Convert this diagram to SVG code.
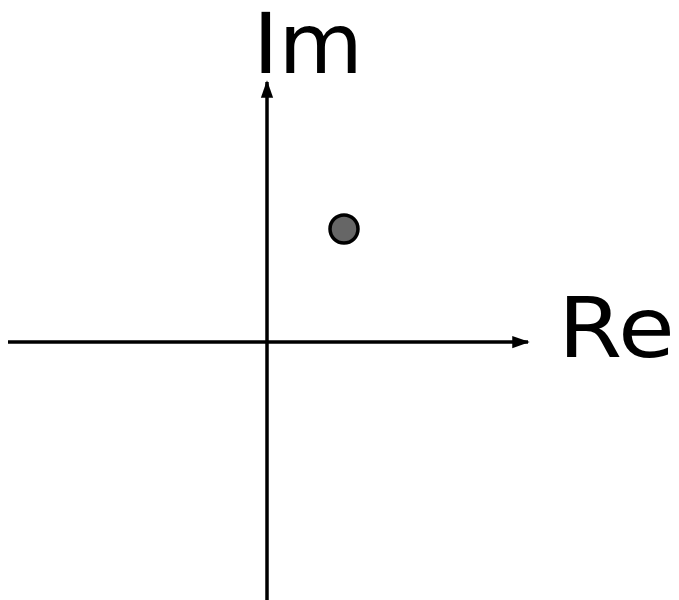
<svg xmlns="http://www.w3.org/2000/svg" width="679" height="600" viewBox="0 0 679 600">
<style>
.ax{stroke:#000;stroke-width:3.5;fill:none}
.lbl{font-family:"DejaVu Sans",Verdana,sans-serif;font-size:84px;fill:#000}
</style>
<defs>
<marker id="ah" viewBox="0 0 10 10" refX="9" refY="5" markerWidth="5" markerHeight="5" markerUnits="strokeWidth" orient="auto">
<path d="M0,1.5 L10,5 L0,8.5 Z" fill="#000"/>
</marker>
</defs>
<rect width="679" height="600" fill="#fff"/>
<g id="connectors">
<line class="ax" x1="8" y1="342" x2="528" y2="342" marker-end="url(#ah)"/>
<line class="ax" x1="267" y1="600" x2="267" y2="82" marker-end="url(#ah)"/>
</g>
<g id="label-im"><text class="lbl" x="253" y="73" textLength="110" lengthAdjust="spacingAndGlyphs">Im</text></g>
<g id="label-re"><text class="lbl" x="558" y="357" textLength="117" lengthAdjust="spacingAndGlyphs">Re</text></g>
<g id="point"><circle cx="344" cy="229" r="14" fill="#666" stroke="#000" stroke-width="3.5"/></g>
</svg>
